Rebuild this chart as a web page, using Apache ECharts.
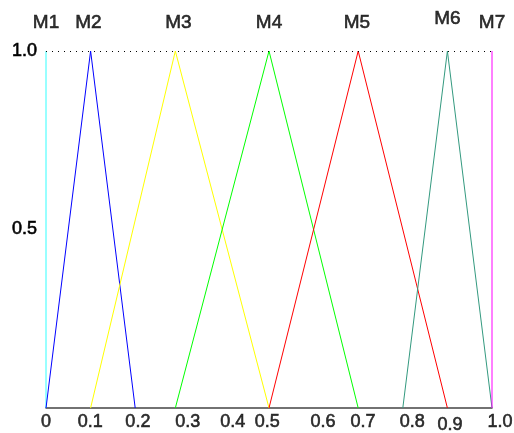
<!DOCTYPE html>
<html>
<head>
<meta charset="utf-8">
<script src="https://cdn.jsdelivr.net/npm/echarts@6/dist/echarts.min.js"></script>
<style>html,body{margin:0;padding:0;background:#fff;}#c{width:514px;height:433px;}</style>
</head>
<body>
<div id="c"></div>
<script>
// Membership functions: [x, y] vertices
const names = ['M1','M2','M3','M4','M5','M6','M7'];
const M1 = [[0,0],[0,1]];
const M2 = [[0,0],[0.1,1],[0.2,0]];
const M3 = [[0.1,0],[0.29,1],[0.5,0]];
const M4 = [[0.29,0],[0.5,1],[0.7,0]];
const M5 = [[0.5,0],[0.7,1],[0.9,0]];
const M6 = [[0.8,0],[0.9,1],[1.0,0]];
const M7 = [[1.0,0],[1.0,1]];
const peaks = [0, 0.095, 0.297, 0.5, 0.697, 0.9, 1.0];
const colors = ['#33ffff','#0000ff','#ffff00','#00ff00','#ff0000','#33997f','#ff00ff'];
// x tick labels and where they sit on the axis scale
const tickLabels = ['0','0.1','0.2','0.3','0.4','0.5','0.6','0.7','0.8','0.9','1.0'];
const tickValues = [0, 0.099, 0.206, 0.318, 0.419, 0.496, 0.621, 0.711, 0.821, 0.906, 1.018];
const yTickLabels = {'0.5':'0.5','1':'1.0'};

const allSets = [M1,M2,M3,M4,M5,M6,M7];
const font = '"Liberation Sans", Arial, sans-serif';
const txt = {color:'#000', fontSize:18, fontFamily:font, textBorderColor:'#000', textBorderWidth:0.6};
const series = allSets.map((d,i)=>({
  type:'line', data:d, symbol:'none', silent:true,
  lineStyle:{color:colors[i], width:1}, z:3
}));
// top labels
series.push({
  type:'scatter', symbolSize:0, silent:true, clip:false,
  data: names.map((n,i)=>({value:[peaks[i],1], label:{offset:[0, i===5?-32:-28]}})),
  label:Object.assign({show:true, position:'inside', formatter:p=>names[p.dataIndex]}, txt, {fontSize:19})
});
// x tick labels
series.push({
  type:'scatter', symbolSize:0, silent:true, clip:false,
  data: tickLabels.map((t,i)=>({value:[tickValues[i],0], label:{offset:[0, i===9?17:14]}})),
  label:Object.assign({show:true, position:'inside', formatter:p=>tickLabels[p.dataIndex]}, txt)
});
// dotted line at 1.0
series.push({
  type:'line', data:[], silent:true,
  markLine:{symbol:'none', silent:true, label:{show:false},
    lineStyle:{color:'#000', type:[1,5], width:1},
    data:[[{coord:[0,1]},{coord:[1,1]}]]}
});

const chart = echarts.init(document.getElementById('c'), null, {renderer:'canvas'});
chart.setOption({
  animation:false,
  grid:{left:46, right:22, top:51, bottom:25},
  xAxis:{type:'value', min:0, max:1, interval:0.1,
    axisLine:{show:true, lineStyle:{color:'#444', width:1.5}},
    axisTick:{show:false}, axisLabel:{show:false}, splitLine:{show:false}},
  yAxis:{type:'value', min:0, max:1, interval:0.5,
    axisLine:{show:false}, axisTick:{show:false}, splitLine:{show:false},
    axisLabel:Object.assign({margin:9, formatter:v=>yTickLabels[String(v)]||''}, txt)},
  series:series
});
</script>
</body>
</html>
